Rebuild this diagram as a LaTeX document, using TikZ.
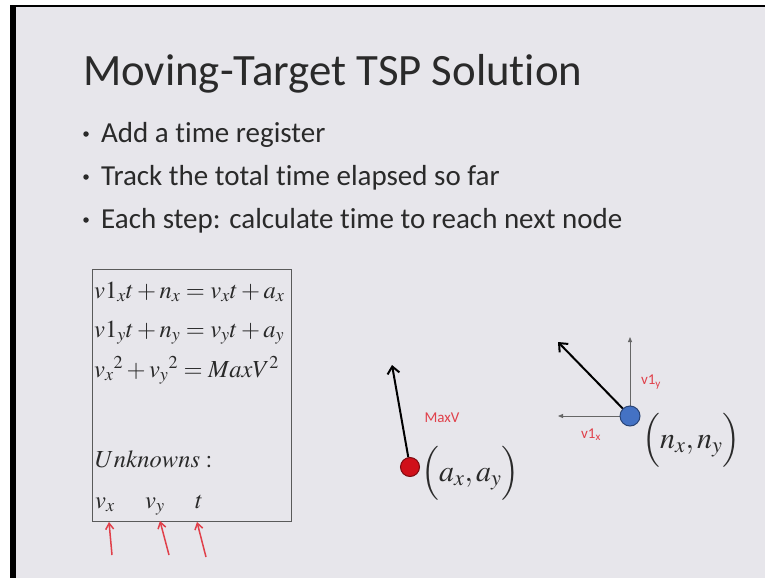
\documentclass[tikz,border=0pt]{standalone}
\usepackage{mathptmx}
\usepackage[no-math]{fontspec}
\newfontfamily\slidesans[Ligatures=NoCommon]{Carlito}
\usetikzlibrary{arrows.meta}
\definecolor{slidebg}{HTML}{E7E6EB}
\definecolor{txt}{HTML}{2A2A2A}
\definecolor{redlbl}{HTML}{E0404A}
\definecolor{reddot}{HTML}{D0101A}
\definecolor{bluedot}{HTML}{4472C4}
\definecolor{boxline}{HTML}{5A5A5A}
\begin{document}
\begin{tikzpicture}[x=1pt,y=-1pt,
  titletext/.style={anchor=base west,inner sep=0,text=txt,font=\slidesans\fontsize{44.8}{50}\selectfont},
  bullettext/.style={anchor=base west,inner sep=0,text=txt,font=\slidesans\fontsize{29}{34}\selectfont},
  bulletdot/.style={circle,fill=txt,inner sep=0,minimum size=5.5pt},
  eqtext/.style={anchor=base west,inner sep=0,text=txt,font=\fontsize{24.5}{28}\selectfont},
  pttext/.style={anchor=base west,inner sep=0,text=txt,font=\fontsize{30}{34}\selectfont},
  lbl/.style={inner sep=0,text=redlbl,font=\slidesans\fontsize{15}{18}\selectfont},
  redarrow/.style={draw=redlbl,line width=1.5pt,-{Straight Barb[length=6pt,width=8pt]}},
  blkarrow/.style={draw=black,line width=2pt,-{Straight Barb[length=7pt,width=12pt]}},
  grayarrow/.style={draw=gray!80!black,line width=0.8pt,-{Triangle[length=5pt,width=4pt]}},
  dotnode/.style={circle,inner sep=0,minimum size=#1},
]
\useasboundingbox (0,0) rectangle (765,578);
% background
\fill[white] (0,0) rectangle (765,578);
\fill[black] (10,5) rectangle (765,578);
\fill[slidebg] (16,7) rectangle (765,578);

% title
\node[titletext] (title) at (83,85) {Moving-Target TSP Solution};

% bullets
\node[bulletdot] (b1) at (86,134) {};
\node[bullettext] (t1) at (101,142) {Add a time register};
\node[bulletdot] (b2) at (86,177) {};
\node[bullettext] (t2) at (101,185) {Track the total time elapsed so far};
\node[bulletdot] (b3) at (86,220) {};
\node[bullettext] (t3) at (101,228) {Each step: calculate time to reach next node};

% equation box
\draw[boxline,line width=1pt] (92,269) rectangle (291,521);
\node[eqtext] (e1) at (94,298) {$v1_x t + n_x = v_x t + a_x$};
\node[eqtext] (e2) at (94,337) {$v1_y t + n_y = v_y t + a_y$};
\node[eqtext] (e3) at (94,377) {${v_x}^2 + {v_y}^2 = MaxV^2$};
\node[eqtext] (unk) at (95,467) {$Unknowns:$};
\node[eqtext] (ux) at (95,508) {$v_x$};
\node[eqtext] (uy) at (145,508) {$v_y$};
\node[eqtext] (ut) at (195,508) {$t$};

% red arrows
\coordinate (r1s) at (112,555); \coordinate (r1e) at (109,522);
\coordinate (r2s) at (169,555); \coordinate (r2e) at (160,521);
\coordinate (r3s) at (206,557); \coordinate (r3e) at (197,522);
\draw[redarrow] (r1s) -- (r1e);
\draw[redarrow] (r2s) -- (r2e);
\draw[redarrow] (r3s) -- (r3e);

% target point a
\coordinate (amax) at (392,365);
\node[dotnode=19pt,fill=reddot,draw=reddot!60!black,line width=1pt] (adot) at (410,467) {};
\draw[blkarrow] (adot) -- (amax);
\node[lbl] (maxv) at (442,418) {MaxV};
\node[pttext] (apos) at (421,481) {$\Bigl(a_x, a_y\Bigr)$};

% point n
\coordinate (nup) at (630,337);
\coordinate (nleft) at (558,416);
\coordinate (nvel) at (558,342);
\draw[grayarrow] (630,416) -- (nup);
\draw[grayarrow] (630,416) -- (nleft);
\draw[blkarrow] (630,416) -- (nvel);
\node[dotnode=20pt,fill=bluedot,draw=bluedot!60!black,line width=1pt] (ndot) at (630,416) {};
\node[lbl] (v1y) at (651,382) {v1\textsubscript{y}};
\node[lbl] (v1x) at (591,435) {v1\textsubscript{x}};
\node[pttext] (npos) at (642,448) {$\Bigl(n_x, n_y\Bigr)$};
\end{tikzpicture}
\end{document}
